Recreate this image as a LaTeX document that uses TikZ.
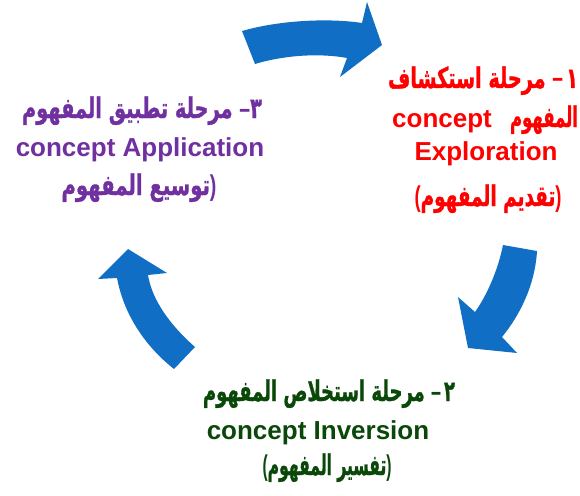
\documentclass[tikz,border=0pt]{standalone}
\usepackage{graphicx}
\usepackage{fontspec}
\setmainfont{Liberation Sans}
\newfontfamily\latinfont{Liberation Sans}
\newfontfamily\arabicfont[Script=Arabic, BoldFeatures={FakeBold=1.2}]{DejaVu Sans}
\TeXXeTstate=1
\definecolor{cyclered}{RGB}{255,0,0}
\definecolor{cyclepurple}{RGB}{112,48,160}
\definecolor{cyclegreen}{RGB}{10,72,10}
\definecolor{arrowblue}{RGB}{16,110,196}
% right-to-left Arabic run
\newcommand{\ar}[1]{{\arabicfont\beginR #1\endR}}
% stage number followed by a dash, read from the right
\newcommand{\stagenum}[1]{\mbox{#1}\mbox{\latinfont\bfseries\,–}}
% a line of text set to a given width, a little taller than its font
\newcommand{\fitw}[2]{\resizebox{#1}{1.3\height}{#2}}
\tikzset{
  blockarrow/.style={fill=arrowblue, draw=none},
  lbl/.style={anchor=base, inner sep=0pt, font=\fontsize{26}{30}\selectfont\bfseries},
  arlbl/.style={anchor=base, inner sep=0pt, font=\fontsize{22}{26}\selectfont\bfseries},
}
\begin{document}
\begin{tikzpicture}[x=1pt, y=-1pt]
\useasboundingbox (0,0) rectangle (580,495);

% curved block arrows of the cycle
\fill[blockarrow] (242,31) .. controls (280,20) and (330,18) .. (362,23)
  -- (367,2) -- (382,45) -- (340,77) -- (347,58)
  .. controls (320,53) and (285,55) .. (255,64) -- cycle;
\fill[blockarrow] (503,245) -- (537,251)
  .. controls (535,285) and (520,315) .. (502,337)
  -- (517,353) -- (468,348) -- (458,297) -- (475,312)
  .. controls (487,295) and (498,270) .. (503,245) -- cycle;
\fill[blockarrow] (128,249) -- (167,273) -- (148,275)
  .. controls (152,300) and (170,325) .. (195,347)
  -- (174,369)
  .. controls (150,350) and (125,320) .. (117,278)
  -- (98,279) -- cycle;

% stage 1: exploration
\begin{scope}[text=cyclered]
\node[arlbl] (r1) at (483,88) {\fitw{190pt}{\ar{\stagenum{١}\ مرحلة استكشاف}}};
\node[lbl] (r2a) at (442,127) {concept};
\node[arlbl] (r2b) at (544,127) {\fitw{68pt}{\ar{المفهوم}}};
\node[lbl] (r3) at (486,160) {Exploration};
\node[arlbl] (r4) at (488,206) {\fitw{147pt}{(\ar{تقديم المفهوم})}};
\end{scope}

% stage 2: inversion
\begin{scope}[text=cyclegreen]
\node[arlbl] (g1) at (329,401) {\fitw{252pt}{\ar{\stagenum{٢}\ مرحلة استخلاص المفهوم}}};
\node[lbl] (g2) at (318,439) {concept Inversion};
\node[arlbl] (g3) at (327,475) {\fitw{129pt}{(\ar{تفسير المفهوم})}};
\end{scope}

% stage 3: application
\begin{scope}[text=cyclepurple]
\node[arlbl] (p1) at (142,118) {\fitw{240pt}{\ar{\mbox{٣}\mbox{\latinfont\bfseries –}\ مرحلة تطبيق المفهوم}}};
\node[lbl] (p2) at (140,156) {concept Application};
\node[arlbl] (p3) at (139,195) {\fitw{155pt}{\ar{توسيع المفهوم})}};
\end{scope}
\end{tikzpicture}
\end{document}
